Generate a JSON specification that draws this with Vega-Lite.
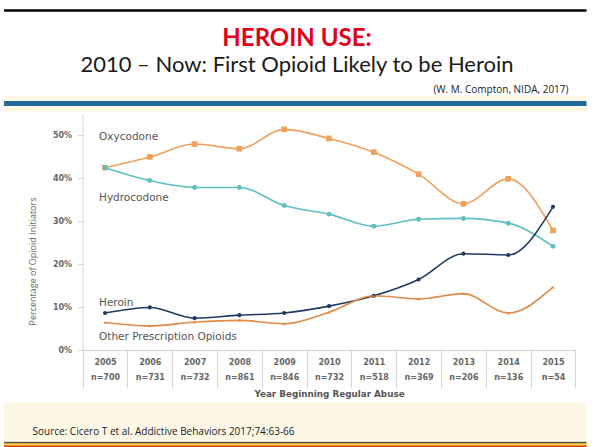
{
"$schema": "https://vega.github.io/schema/vega-lite/v6.json",
"width": 594, "height": 447, "padding": 0, "autosize": {"type": "none"},
"background": "#ffffff",
"config": {"view": {"stroke": null}},
"title": {"text": "HEROIN USE:", "subtitle": "2010 – Now:  First Opioid Likely to be Heroin", "anchor": "middle", "frame": "group", "offset": -76, "font": "Lato", "fontSize": 24, "fontWeight": "bold", "color": "#e2001a", "subtitleFont": "Lato", "subtitleFontSize": 22, "subtitleColor": "#1a1a1a", "subtitlePadding": 4},
"datasets": {
"series": [
{"series": "Oxycodone", "period": "2005 n=700", "value": 0.424},
{"series": "Oxycodone", "period": "2006 n=731", "value": 0.449},
{"series": "Oxycodone", "period": "2007 n=732", "value": 0.479},
{"series": "Oxycodone", "period": "2008 n=861", "value": 0.468},
{"series": "Oxycodone", "period": "2009 n=846", "value": 0.513},
{"series": "Oxycodone", "period": "2010 n=732", "value": 0.492},
{"series": "Oxycodone", "period": "2011 n=518", "value": 0.460},
{"series": "Oxycodone", "period": "2012 n=369", "value": 0.409},
{"series": "Oxycodone", "period": "2013 n=206", "value": 0.340},
{"series": "Oxycodone", "period": "2014 n=136", "value": 0.398},
{"series": "Oxycodone", "period": "2015 n=54", "value": 0.278},
{"series": "Hydrocodone", "period": "2005 n=700", "value": 0.424},
{"series": "Hydrocodone", "period": "2006 n=731", "value": 0.394},
{"series": "Hydrocodone", "period": "2007 n=732", "value": 0.378},
{"series": "Hydrocodone", "period": "2008 n=861", "value": 0.378},
{"series": "Hydrocodone", "period": "2009 n=846", "value": 0.336},
{"series": "Hydrocodone", "period": "2010 n=732", "value": 0.316},
{"series": "Hydrocodone", "period": "2011 n=518", "value": 0.288},
{"series": "Hydrocodone", "period": "2012 n=369", "value": 0.304},
{"series": "Hydrocodone", "period": "2013 n=206", "value": 0.306},
{"series": "Hydrocodone", "period": "2014 n=136", "value": 0.295},
{"series": "Hydrocodone", "period": "2015 n=54", "value": 0.241},
{"series": "Heroin", "period": "2005 n=700", "value": 0.086},
{"series": "Heroin", "period": "2006 n=731", "value": 0.099},
{"series": "Heroin", "period": "2007 n=732", "value": 0.074},
{"series": "Heroin", "period": "2008 n=861", "value": 0.081},
{"series": "Heroin", "period": "2009 n=846", "value": 0.086},
{"series": "Heroin", "period": "2010 n=732", "value": 0.102},
{"series": "Heroin", "period": "2011 n=518", "value": 0.126},
{"series": "Heroin", "period": "2012 n=369", "value": 0.164},
{"series": "Heroin", "period": "2013 n=206", "value": 0.224},
{"series": "Heroin", "period": "2014 n=136", "value": 0.221},
{"series": "Heroin", "period": "2015 n=54", "value": 0.333},
{"series": "Other Prescription Opioids", "period": "2005 n=700", "value": 0.064},
{"series": "Other Prescription Opioids", "period": "2006 n=731", "value": 0.056},
{"series": "Other Prescription Opioids", "period": "2007 n=732", "value": 0.065},
{"series": "Other Prescription Opioids", "period": "2008 n=861", "value": 0.069},
{"series": "Other Prescription Opioids", "period": "2009 n=846", "value": 0.061},
{"series": "Other Prescription Opioids", "period": "2010 n=732", "value": 0.088},
{"series": "Other Prescription Opioids", "period": "2011 n=518", "value": 0.126},
{"series": "Other Prescription Opioids", "period": "2012 n=369", "value": 0.119},
{"series": "Other Prescription Opioids", "period": "2013 n=206", "value": 0.131},
{"series": "Other Prescription Opioids", "period": "2014 n=136", "value": 0.086},
{"series": "Other Prescription Opioids", "period": "2015 n=54", "value": 0.146}
],
"labels": [
{"label": "Oxycodone", "period": "2005 n=700", "value": 0.495},
{"label": "Hydrocodone", "period": "2005 n=700", "value": 0.3535},
{"label": "Heroin", "period": "2005 n=700", "value": 0.109},
{"label": "Other Prescription Opioids", "period": "2005 n=700", "value": 0.030}
]
},
"layer": [
{
"data": {"name": "series"},
"encoding": {
"x": {"field": "period", "type": "nominal", "sort": null,
"scale": {"type": "band", "range": [82.6, 575.4], "paddingInner": 0, "paddingOuter": 0},
"axis": {"orient": "bottom", "offset": -97, "tickBand": "extent", "tickSize": 38, "tickColor": "#d6d6d6", "domainColor": "#cccccc", "labelExpr": "split(datum.label, ' ')", "labelPadding": -30, "labelBaseline": "top", "labelLineHeight": 15, "labelAngle": 0, "labelFont": "DejaVu Sans", "labelFontSize": 8, "labelFontWeight": "bold", "labelColor": "#666666", "labelOverlap": false, "labelBound": false, "title": "Year Beginning Regular Abuse", "titleY": 43, "titleBaseline": "middle", "titleFont": "DejaVu Sans", "titleFontSize": 8.8, "titleFontWeight": "bold", "titleColor": "#555555"}},
"y": {"field": "value", "type": "quantitative",
"scale": {"domain": [0, 0.55], "range": [350, 113.5], "nice": false, "zero": true},
"axis": {"orient": "left", "offset": -82.6, "values": [0, 0.1, 0.2, 0.3, 0.4, 0.5], "format": ".0%", "grid": false, "domainColor": "#d9d9d9", "tickColor": "#d9d9d9", "tickSize": 5, "labelPadding": 6, "labelFont": "DejaVu Sans", "labelFontSize": 8, "labelFontWeight": "bold", "labelColor": "#666666", "title": "Percentage of Opioid Initiators", "titleX": -50.6, "titleY": 261, "titleAngle": -90, "titleAlign": "center", "titleBaseline": "middle", "titleFont": "Open Sans", "titleFontSize": 9, "titleFontWeight": "normal", "titleColor": "#666666"}},
"color": {"field": "series", "type": "nominal", "legend": null,
"scale": {"domain": ["Oxycodone", "Hydrocodone", "Heroin", "Other Prescription Opioids"], "range": ["#f0a05a", "#5dbfc0", "#1f3a64", "#e08a45"]}}
},
"layer": [
{"mark": {"type": "line", "interpolate": "monotone", "strokeWidth": 1.6}},
{"mark": {"type": "point", "filled": true, "opacity": 1},
"encoding": {
"shape": {"field": "series", "type": "nominal", "legend": null, "scale": {"domain": ["Oxycodone", "Hydrocodone", "Heroin", "Other Prescription Opioids"], "range": ["square", "circle", "circle", "triangle-up"]}},
"size": {"field": "series", "type": "nominal", "legend": null, "scale": {"domain": ["Oxycodone", "Hydrocodone", "Heroin", "Other Prescription Opioids"], "range": [32, 10, 30, 22]}}
}}
]
},
{
"data": {"name": "labels"},
"mark": {"type": "text", "align": "left", "baseline": "middle", "dx": -6, "font": "DejaVu Sans", "fontSize": 10.5, "color": "#555555"},
"encoding": {
"x": {"field": "period", "type": "nominal",
"scale": {"type": "band", "domain": ["2005 n=700", "2006 n=731", "2007 n=732", "2008 n=861", "2009 n=846", "2010 n=732", "2011 n=518", "2012 n=369", "2013 n=206", "2014 n=136", "2015 n=54"], "range": [8, 590.4], "paddingInner": 0, "paddingOuter": 1, "align": 0.8326},
"axis": {"orient": "top", "offset": 0, "grid": false, "ticks": false, "labels": false, "domain": false, "title": "(W. M. Compton, NIDA, 2017)", "titleX": 568, "titleY": 89, "titleAlign": "right", "titleBaseline": "middle", "titleFont": "Open Sans", "titleFontSize": 10, "titleFontWeight": "normal", "titleColor": "#222222"}},
"y": {"field": "value", "type": "quantitative",
"scale": {"domain": [-0.225581, 0.813953], "range": [447, 0], "nice": false, "zero": false},
"axis": {"orient": "right", "offset": 0, "values": [0.7907, 0.5849, 0.5733, 0.5616, -0.1651, -0.2128, -0.2163, -0.2198, -0.2233], "grid": true, "gridOpacity": 1,
"gridColor": {"condition": [{"test": "datum.value > 0.7", "value": "#000000"}, {"test": "datum.value > 0.57 && datum.value < 0.58", "value": "#22699a"}, {"test": "datum.value < -0.222", "value": "#e3141c"}, {"test": "datum.value < -0.218", "value": "#f08c00"}, {"test": "datum.value < -0.215", "value": "#f2c400"}, {"test": "datum.value < -0.2", "value": "#5e5040"}], "value": "#fdf7e6"},
"gridWidth": {"condition": [{"test": "datum.value > 0.7", "value": 2.5}, {"test": "datum.value < -0.16 && datum.value > -0.17", "value": 38}, {"test": "datum.value < -0.222", "value": 2.2}, {"test": "datum.value < -0.2", "value": 1.6}], "value": 5},
"ticks": false, "labels": false, "domain": false, "zindex": 0,
"title": "Source:  Cicero T et al.  Addictive Behaviors 2017;74:63-66", "titleAngle": 0, "titleX": -562, "titleY": 431, "titleAlign": "left", "titleBaseline": "middle", "titleFont": "Open Sans", "titleFontSize": 10, "titleFontWeight": "normal", "titleColor": "#222222"}},
"text": {"field": "label"}
}
}
],
"resolve": {"scale": {"x": "independent", "y": "independent"}, "axis": {"x": "independent", "y": "independent"}}
}
